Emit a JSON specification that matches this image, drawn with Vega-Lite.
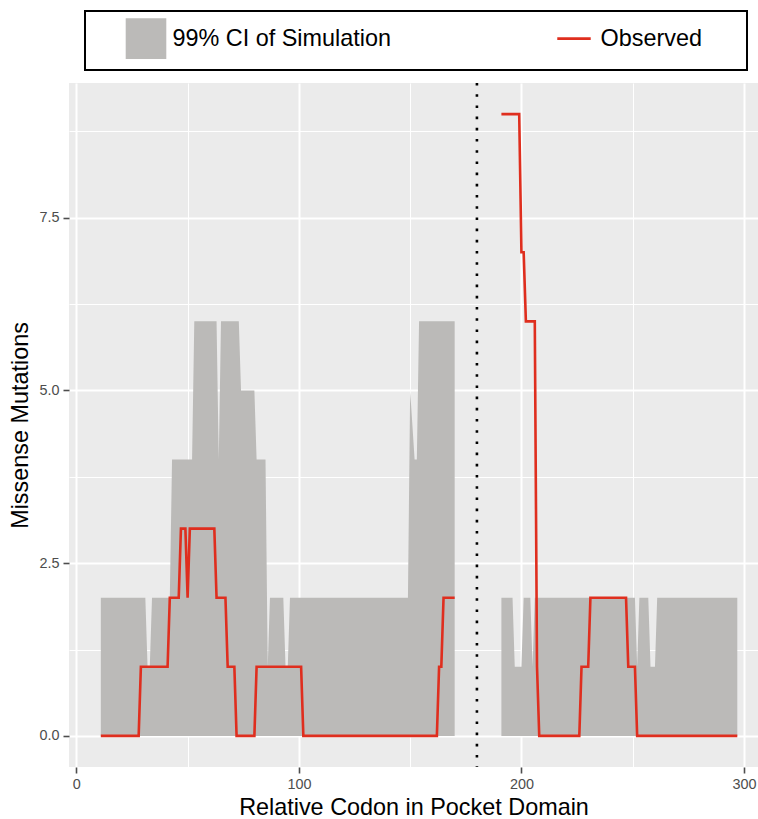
{
  "$schema": "https://vega.github.io/schema/vega-lite/v6.json",
  "width": 689,
  "height": 684,
  "autosize": {"type": "none"},
  "padding": {"left": 69, "top": 83, "right": 0, "bottom": 52},
  "background": "white",
  "config": {
    "view": {"fill": "#EBEBEB", "stroke": null},
    "font": "Liberation Sans"
  },
  "datasets": {
    "ci": [
      {"codon": 11, "upper": 2, "lower": 0, "seg": "A", "series": "99% CI of Simulation"},
      {"codon": 31, "upper": 2, "lower": 0, "seg": "A", "series": "99% CI of Simulation"},
      {"codon": 32, "upper": 1, "lower": 0, "seg": "A", "series": "99% CI of Simulation"},
      {"codon": 33, "upper": 1, "lower": 0, "seg": "A", "series": "99% CI of Simulation"},
      {"codon": 34, "upper": 2, "lower": 0, "seg": "A", "series": "99% CI of Simulation"},
      {"codon": 42, "upper": 2, "lower": 0, "seg": "A", "series": "99% CI of Simulation"},
      {"codon": 43, "upper": 4, "lower": 0, "seg": "A", "series": "99% CI of Simulation"},
      {"codon": 52, "upper": 4, "lower": 0, "seg": "A", "series": "99% CI of Simulation"},
      {"codon": 53, "upper": 6, "lower": 0, "seg": "A", "series": "99% CI of Simulation"},
      {"codon": 63, "upper": 6, "lower": 0, "seg": "A", "series": "99% CI of Simulation"},
      {"codon": 64, "upper": 4, "lower": 0, "seg": "A", "series": "99% CI of Simulation"},
      {"codon": 65, "upper": 6, "lower": 0, "seg": "A", "series": "99% CI of Simulation"},
      {"codon": 73, "upper": 6, "lower": 0, "seg": "A", "series": "99% CI of Simulation"},
      {"codon": 74, "upper": 5, "lower": 0, "seg": "A", "series": "99% CI of Simulation"},
      {"codon": 80, "upper": 5, "lower": 0, "seg": "A", "series": "99% CI of Simulation"},
      {"codon": 81, "upper": 4, "lower": 0, "seg": "A", "series": "99% CI of Simulation"},
      {"codon": 85, "upper": 4, "lower": 0, "seg": "A", "series": "99% CI of Simulation"},
      {"codon": 86, "upper": 1, "lower": 0, "seg": "A", "series": "99% CI of Simulation"},
      {"codon": 87, "upper": 2, "lower": 0, "seg": "A", "series": "99% CI of Simulation"},
      {"codon": 93, "upper": 2, "lower": 0, "seg": "A", "series": "99% CI of Simulation"},
      {"codon": 94, "upper": 1, "lower": 0, "seg": "A", "series": "99% CI of Simulation"},
      {"codon": 95, "upper": 1, "lower": 0, "seg": "A", "series": "99% CI of Simulation"},
      {"codon": 96, "upper": 2, "lower": 0, "seg": "A", "series": "99% CI of Simulation"},
      {"codon": 149, "upper": 2, "lower": 0, "seg": "A", "series": "99% CI of Simulation"},
      {"codon": 150, "upper": 5, "lower": 0, "seg": "A", "series": "99% CI of Simulation"},
      {"codon": 152, "upper": 4, "lower": 0, "seg": "A", "series": "99% CI of Simulation"},
      {"codon": 153, "upper": 4, "lower": 0, "seg": "A", "series": "99% CI of Simulation"},
      {"codon": 154, "upper": 6, "lower": 0, "seg": "A", "series": "99% CI of Simulation"},
      {"codon": 170, "upper": 6, "lower": 0, "seg": "A", "series": "99% CI of Simulation"},
      {"codon": 191, "upper": 2, "lower": 0, "seg": "B", "series": "99% CI of Simulation"},
      {"codon": 196, "upper": 2, "lower": 0, "seg": "B", "series": "99% CI of Simulation"},
      {"codon": 197, "upper": 1, "lower": 0, "seg": "B", "series": "99% CI of Simulation"},
      {"codon": 200, "upper": 1, "lower": 0, "seg": "B", "series": "99% CI of Simulation"},
      {"codon": 201, "upper": 2, "lower": 0, "seg": "B", "series": "99% CI of Simulation"},
      {"codon": 204, "upper": 2, "lower": 0, "seg": "B", "series": "99% CI of Simulation"},
      {"codon": 205, "upper": 1, "lower": 0, "seg": "B", "series": "99% CI of Simulation"},
      {"codon": 206, "upper": 2, "lower": 0, "seg": "B", "series": "99% CI of Simulation"},
      {"codon": 251, "upper": 2, "lower": 0, "seg": "B", "series": "99% CI of Simulation"},
      {"codon": 252, "upper": 1, "lower": 0, "seg": "B", "series": "99% CI of Simulation"},
      {"codon": 253, "upper": 2, "lower": 0, "seg": "B", "series": "99% CI of Simulation"},
      {"codon": 257, "upper": 2, "lower": 0, "seg": "B", "series": "99% CI of Simulation"},
      {"codon": 258, "upper": 1, "lower": 0, "seg": "B", "series": "99% CI of Simulation"},
      {"codon": 260, "upper": 1, "lower": 0, "seg": "B", "series": "99% CI of Simulation"},
      {"codon": 261, "upper": 2, "lower": 0, "seg": "B", "series": "99% CI of Simulation"},
      {"codon": 297, "upper": 2, "lower": 0, "seg": "B", "series": "99% CI of Simulation"}
    ],
    "obs": [
      {"codon": 11, "observed": 0, "seg": "A", "series": "Observed"},
      {"codon": 28, "observed": 0, "seg": "A", "series": "Observed"},
      {"codon": 29, "observed": 1, "seg": "A", "series": "Observed"},
      {"codon": 41, "observed": 1, "seg": "A", "series": "Observed"},
      {"codon": 42, "observed": 2, "seg": "A", "series": "Observed"},
      {"codon": 46, "observed": 2, "seg": "A", "series": "Observed"},
      {"codon": 47, "observed": 3, "seg": "A", "series": "Observed"},
      {"codon": 49, "observed": 3, "seg": "A", "series": "Observed"},
      {"codon": 50, "observed": 2, "seg": "A", "series": "Observed"},
      {"codon": 51, "observed": 3, "seg": "A", "series": "Observed"},
      {"codon": 62, "observed": 3, "seg": "A", "series": "Observed"},
      {"codon": 63, "observed": 2, "seg": "A", "series": "Observed"},
      {"codon": 67, "observed": 2, "seg": "A", "series": "Observed"},
      {"codon": 68, "observed": 1, "seg": "A", "series": "Observed"},
      {"codon": 71, "observed": 1, "seg": "A", "series": "Observed"},
      {"codon": 72, "observed": 0, "seg": "A", "series": "Observed"},
      {"codon": 80, "observed": 0, "seg": "A", "series": "Observed"},
      {"codon": 81, "observed": 1, "seg": "A", "series": "Observed"},
      {"codon": 101, "observed": 1, "seg": "A", "series": "Observed"},
      {"codon": 102, "observed": 0, "seg": "A", "series": "Observed"},
      {"codon": 162, "observed": 0, "seg": "A", "series": "Observed"},
      {"codon": 163, "observed": 1, "seg": "A", "series": "Observed"},
      {"codon": 164, "observed": 1, "seg": "A", "series": "Observed"},
      {"codon": 165, "observed": 2, "seg": "A", "series": "Observed"},
      {"codon": 170, "observed": 2, "seg": "A", "series": "Observed"},
      {"codon": 191, "observed": 9, "seg": "B", "series": "Observed"},
      {"codon": 199, "observed": 9, "seg": "B", "series": "Observed"},
      {"codon": 200, "observed": 7, "seg": "B", "series": "Observed"},
      {"codon": 201, "observed": 7, "seg": "B", "series": "Observed"},
      {"codon": 202, "observed": 6, "seg": "B", "series": "Observed"},
      {"codon": 206, "observed": 6, "seg": "B", "series": "Observed"},
      {"codon": 207, "observed": 1, "seg": "B", "series": "Observed"},
      {"codon": 208, "observed": 0, "seg": "B", "series": "Observed"},
      {"codon": 226, "observed": 0, "seg": "B", "series": "Observed"},
      {"codon": 227, "observed": 1, "seg": "B", "series": "Observed"},
      {"codon": 230, "observed": 1, "seg": "B", "series": "Observed"},
      {"codon": 231, "observed": 2, "seg": "B", "series": "Observed"},
      {"codon": 247, "observed": 2, "seg": "B", "series": "Observed"},
      {"codon": 248, "observed": 1, "seg": "B", "series": "Observed"},
      {"codon": 251, "observed": 1, "seg": "B", "series": "Observed"},
      {"codon": 252, "observed": 0, "seg": "B", "series": "Observed"},
      {"codon": 297, "observed": 0, "seg": "B", "series": "Observed"}
    ],
    "cut": [{"codon": 180}]
  },
  "encoding": {
    "x": {
      "type": "quantitative",
      "scale": {"domain": [-3.3, 306.3], "nice": false, "zero": false},
      "axis": {
        "title": "Relative Codon in Pocket Domain",
        "values": [0, 50, 100, 150, 200, 250, 300],
        "labelExpr": "datum.value % 100 == 0 ? datum.label : ''",
        "domain": false,
        "grid": true,
        "gridColor": "white",
        "gridWidth": {"condition": {"test": "datum.value % 100 == 0", "value": 2}, "value": 1},
        "tickColor": "#4D4D4D",
        "tickWidth": 1.6,
        "tickSize": 6,
        "tickOpacity": {"condition": {"test": "datum.value % 100 == 0", "value": 1}, "value": 0},
        "labelFont": "Liberation Sans",
        "labelFontSize": 14.4,
        "labelColor": "#4D4D4D",
        "labelPadding": 4,
        "titleFont": "Liberation Sans",
        "titleFontSize": 23.4,
        "titleFontWeight": "normal",
        "titleColor": "black",
        "titlePadding": 6
      }
    }
  },
  "layer": [
    {
      "data": {"name": "ci"},
      "mark": {"type": "area", "opacity": 1, "interpolate": "linear"},
      "encoding": {
        "x": {"field": "codon", "type": "quantitative"},
        "y": {
          "field": "upper",
          "type": "quantitative",
          "scale": {"domain": [-0.45, 9.45], "nice": false, "zero": false},
          "axis": {
            "title": "Missense Mutations",
            "values": [0, 1.25, 2.5, 3.75, 5, 6.25, 7.5, 8.75],
            "labelExpr": "datum.value % 2.5 == 0 ? format(datum.value, '.1f') : ''",
            "domain": false,
            "grid": true,
            "gridColor": "white",
            "gridWidth": {"condition": {"test": "datum.value % 2.5 == 0", "value": 2}, "value": 1},
            "tickColor": "#4D4D4D",
            "tickWidth": 1.6,
            "tickSize": 6,
            "tickOpacity": {"condition": {"test": "datum.value % 2.5 == 0", "value": 1}, "value": 0},
            "labelFont": "Liberation Sans",
            "labelFontSize": 14.4,
            "labelColor": "#4D4D4D",
            "labelPadding": 4,
            "titleFont": "Liberation Sans",
            "titleFontSize": 23.4,
            "titleFontWeight": "normal",
            "titleColor": "black",
            "titlePadding": 6
          }
        },
        "y2": {"field": "lower"},
        "detail": {"field": "seg"},
        "color": {
          "field": "series",
          "type": "nominal",
          "scale": {"domain": ["99% CI of Simulation", "Observed"], "range": ["#BBBAB8", "#DF2E1E"]},
          "legend": {
            "title": "\u00a0",
            "titleOrient": "right",
            "titlePadding": 37.5,
            "titleFontSize": 8,
            "orient": "none",
            "legendX": 16,
            "legendY": -72,
            "direction": "horizontal",
            "columns": 2,
            "columnPadding": 129,
            "padding": 7,
            "symbolSize": 1444,
            "symbolType": "square",
            "symbolOffset": 33.5,
            "labelOffset": 6,
            "labelFont": "Liberation Sans",
            "labelFontSize": 23.4,
            "labelColor": "black",
            "labelLimit": 500,
            "strokeColor": "black",
            "encode": {
              "legend": {"update": {"stroke": {"value": "black"}, "strokeWidth": {"value": 2}}},
              "symbols": {
                "update": {
                  "shape": {"signal": "datum.value === 'Observed' ? 'M-1,-1L-1,-1M-0.88,0L0.88,0M1,1L1,1' : 'square'"},
                  "fill": {"signal": "datum.value === 'Observed' ? 'transparent' : '#BBBAB8'"},
                  "stroke": {"signal": "datum.value === 'Observed' ? '#DF2E1E' : 'transparent'"},
                  "strokeWidth": {"value": 2.6},
                  "size": {"value": 1444},
                  "opacity": {"value": 1}
                }
              }
            }
          }
        }
      }
    },
    {
      "data": {"name": "obs"},
      "mark": {"type": "line", "strokeWidth": 2.6, "interpolate": "linear"},
      "encoding": {
        "x": {"field": "codon", "type": "quantitative"},
        "y": {"field": "observed", "type": "quantitative"},
        "detail": {"field": "seg"},
        "color": {
          "field": "series",
          "type": "nominal",
          "legend": {
            "title": "\u00a0",
            "titleOrient": "right",
            "titlePadding": 37.5,
            "titleFontSize": 8,
            "orient": "none",
            "legendX": 16,
            "legendY": -72,
            "direction": "horizontal",
            "columns": 2,
            "columnPadding": 129,
            "padding": 7,
            "symbolSize": 1444,
            "symbolType": "square",
            "symbolOffset": 33.5,
            "labelOffset": 6,
            "labelFont": "Liberation Sans",
            "labelFontSize": 23.4,
            "labelColor": "black",
            "labelLimit": 500,
            "strokeColor": "black",
            "encode": {
              "legend": {"update": {"stroke": {"value": "black"}, "strokeWidth": {"value": 2}}},
              "symbols": {
                "update": {
                  "shape": {"signal": "datum.value === 'Observed' ? 'M-1,-1L-1,-1M-0.88,0L0.88,0M1,1L1,1' : 'square'"},
                  "fill": {"signal": "datum.value === 'Observed' ? 'transparent' : '#BBBAB8'"},
                  "stroke": {"signal": "datum.value === 'Observed' ? '#DF2E1E' : 'transparent'"},
                  "strokeWidth": {"value": 2.6},
                  "size": {"value": 1444},
                  "opacity": {"value": 1}
                }
              }
            }
          }
        }
      }
    },
    {
      "data": {"name": "cut"},
      "mark": {"type": "rule", "color": "black", "strokeWidth": 2.6, "strokeDash": [2.6, 8.6]},
      "encoding": {
        "x": {"field": "codon", "type": "quantitative"}
      }
    }
  ]
}
